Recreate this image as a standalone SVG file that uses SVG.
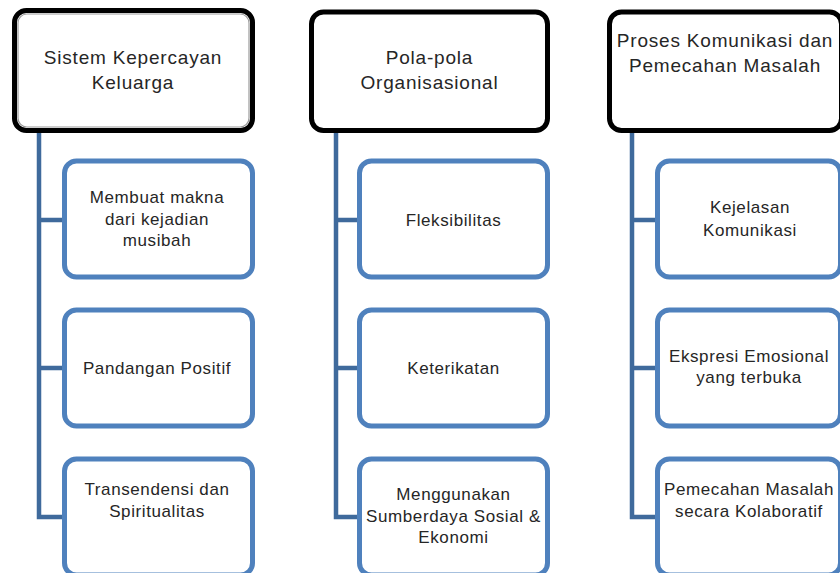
<svg xmlns="http://www.w3.org/2000/svg" width="840" height="573" viewBox="0 0 840 573">
<style>
  .hdr { fill: #ffffff; stroke: #000000; stroke-width: 5; }
  .hdr-in { fill: none; stroke: #9a9a9a; stroke-width: 1.2; }
  .child { fill: #ffffff; stroke: #4f81bd; stroke-width: 5; }
  .conn { fill: none; stroke: #3f6a9c; stroke-width: 4.5; stroke-linejoin: miter; }
  text { font-family: "Liberation Sans", Arial, sans-serif; fill: #262626; text-anchor: middle; }
  .th { font-size: 19px; letter-spacing: 0.8px; }
  .tc { font-size: 17px; letter-spacing: 0.6px; }
</style>
<rect width="840" height="573" fill="#ffffff"/>

<g id="connectors">
  <path class="conn" d="M39 133 V517 H64 M39 220 H64 M39 368 H64"/>
  <path class="conn" d="M336 133 V517 H359 M336 220 H359 M336 368 H359"/>
  <path class="conn" d="M632 133 V517 H657 M632 220 H657 M632 368 H657"/>
</g>

<g id="header1">
  <rect class="hdr" x="14.5" y="10.5" width="238" height="120" rx="12"/>
  <rect class="hdr-in" x="18" y="14" width="231" height="113" rx="9"/>
  <text class="th" x="133" y="64">Sistem Kepercayan</text>
  <text class="th" x="133" y="89">Keluarga</text>
</g>
<g id="header2">
  <rect class="hdr" x="311.5" y="12" width="236" height="118.5" rx="12"/>
  <text class="th" x="429.5" y="64">Pola-pola</text>
  <text class="th" x="429.5" y="89">Organisasional</text>
</g>
<g id="header3">
  <rect class="hdr" x="609.5" y="12" width="232" height="118.5" rx="12"/>
  <text class="th" x="725" y="47">Proses Komunikasi dan</text>
  <text class="th" x="725" y="72">Pemecahan Masalah</text>
</g>

<g id="c1n1">
  <rect class="child" x="64.5" y="161" width="188" height="116" rx="12"/>
  <text class="tc" x="157" y="203">Membuat makna</text>
  <text class="tc" x="157" y="225">dari kejadian</text>
  <text class="tc" x="157" y="246">musibah</text>
</g>
<g id="c1n2">
  <rect class="child" x="64.5" y="310" width="188" height="116" rx="12"/>
  <text class="tc" x="157" y="374">Pandangan Positif</text>
</g>
<g id="c1n3">
  <rect class="child" x="64.5" y="459" width="188" height="116" rx="12"/>
  <text class="tc" x="157" y="495">Transendensi dan</text>
  <text class="tc" x="157" y="517">Spiritualitas</text>
</g>

<g id="c2n1">
  <rect class="child" x="359.5" y="161" width="188" height="116" rx="12"/>
  <text class="tc" x="453.5" y="226">Fleksibilitas</text>
</g>
<g id="c2n2">
  <rect class="child" x="359.5" y="310" width="188" height="116" rx="12"/>
  <text class="tc" x="453.5" y="374">Keterikatan</text>
</g>
<g id="c2n3">
  <rect class="child" x="359.5" y="459" width="188" height="116" rx="12"/>
  <text class="tc" x="453.5" y="500">Menggunakan</text>
  <text class="tc" x="453.5" y="522">Sumberdaya Sosial &amp;</text>
  <text class="tc" x="453.5" y="543">Ekonomi</text>
</g>

<g id="c3n1">
  <rect class="child" x="657.5" y="161" width="183" height="116" rx="12"/>
  <text class="tc" x="750" y="213">Kejelasan</text>
  <text class="tc" x="750" y="236">Komunikasi</text>
</g>
<g id="c3n2">
  <rect class="child" x="657.5" y="310" width="183" height="116" rx="12"/>
  <text class="tc" x="749" y="362">Ekspresi Emosional</text>
  <text class="tc" x="749" y="383">yang terbuka</text>
</g>
<g id="c3n3">
  <rect class="child" x="657.5" y="459" width="183" height="116" rx="12"/>
  <text class="tc" x="749" y="495">Pemecahan Masalah</text>
  <text class="tc" x="749" y="517">secara Kolaboratif</text>
</g>
</svg>
